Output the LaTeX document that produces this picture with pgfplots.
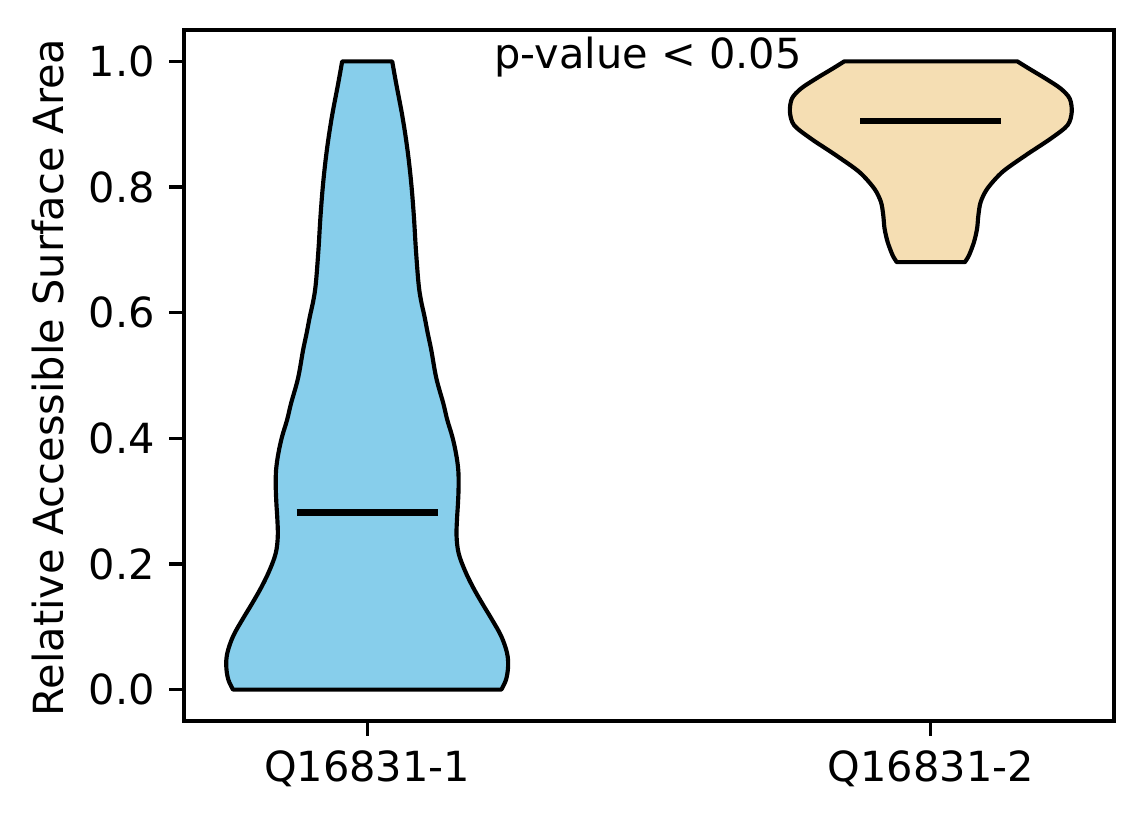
\documentclass[border=0pt]{standalone}
\usepackage{fontspec}
\setmainfont{DejaVu Sans}
\usepackage{pgfplots}
\usepackage{pgfplotstable}
\usepgfplotslibrary{fillbetween}
\pgfplotsset{compat=1.18}
\definecolor{skyblue}{RGB}{135,206,235}
\definecolor{wheat}{RGB}{245,222,179}

\pgfplotstableread{
y h
1.0000 0.0444
0.9645 0.0515
0.9114 0.0627
0.8585 0.0716
0.8056 0.0782
0.7525 0.0829
0.6995 0.0865
0.6466 0.0911
0.6200 0.0954
0.5935 0.1018
0.5670 0.1075
0.5405 0.1137
0.4960 0.1226
0.4558 0.1350
0.4293 0.1421
0.4027 0.1510
0.3763 0.1575
0.3498 0.1616
0.3232 0.1622
0.2968 0.1611
0.2703 0.1593
0.2437 0.1586
0.2173 0.1622
0.1908 0.1728
0.1642 0.1870
0.1378 0.2037
0.1113 0.2215
0.0847 0.2380
0.0583 0.2481
0.0370 0.2500
0.0159 0.2464
0.0000 0.2380
}\violinA

\pgfplotstableread{
y h
1.0000 0.1536
0.9884 0.1744
0.9725 0.2039
0.9566 0.2306
0.9407 0.2465
0.9194 0.2500
0.8983 0.2425
0.8771 0.2128
0.8506 0.1684
0.8240 0.1270
0.7976 0.1004
0.7763 0.0885
0.7552 0.0844
0.7340 0.0821
0.7127 0.0767
0.6916 0.0679
0.6804 0.0604
}\violinB

\begin{document}
\begin{tikzpicture}
\begin{axis}[
  at={(0,0)}, anchor=south west,
  scale only axis,
  width=223.2bp, height=165.84bp,
  xmin=0.675, xmax=2.325,
  ymin=-0.05, ymax=1.05,
  xtick={1,2},
  xticklabels={Q16831-1,Q16831-2},
  ytick={0,0.2,0.4,0.6,0.8,1.0},
  yticklabel style={/pgf/number format/fixed,/pgf/number format/fixed zerofill,/pgf/number format/precision=1},
  /pgf/number format/assume math mode=true,
  tick label style={font=\fontsize{10}{12}\selectfont},
  tick align=outside,
  tick pos=left,
  major tick length=3.5pt,
  tick style={line width=0.8pt, black},
  axis line style={line width=0.8pt},
  every axis y label/.style={at={(axis description cs:-0.1298,0.497)}, rotate=90, anchor=base},
  ylabel={Relative Accessible Surface Area},
  label style={font=\fontsize{10}{12}\selectfont},
  clip=false,
]
\addplot[draw=none, smooth, tension=0.6, name path=AL] table[x expr=1-\thisrow{h}, y=y] {\violinA};
\addplot[draw=none, smooth, tension=0.6, name path=AR] table[x expr=1+\thisrow{h}, y=y] {\violinA};
\addplot[fill=skyblue, draw=black, line width=1pt, line join=round] fill between[of=AL and AR, reverse=true];
\addplot[draw=none, smooth, tension=0.5, name path=BL] table[x expr=2-\thisrow{h}, y=y] {\violinB};
\addplot[draw=none, smooth, tension=0.5, name path=BR] table[x expr=2+\thisrow{h}, y=y] {\violinB};
\addplot[fill=wheat, draw=black, line width=1pt, line join=round] fill between[of=BL and BR, reverse=true];
\addplot[black, line width=1.5pt] coordinates {(0.875,0.282) (1.125,0.282)};
\addplot[black, line width=1.5pt] coordinates {(1.875,0.905) (2.125,0.905)};
\node[anchor=base, font=\fontsize{10}{12}\selectfont] at (axis cs:1.498,0.9894) {p-value < 0.05};
\end{axis}
\pgfresetboundingbox
\useasboundingbox (-44.16bp,-24.72bp) rectangle (230.4bp,173.04bp);
\end{tikzpicture}
\end{document}
